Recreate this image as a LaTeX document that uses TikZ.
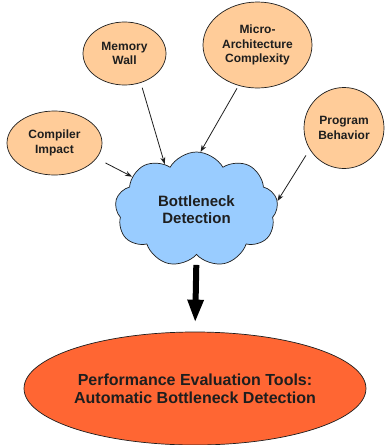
\documentclass[tikz,border=0pt]{standalone}
\usepackage{fontspec}
\setmainfont{Liberation Sans}
\usetikzlibrary{shapes.geometric,shapes.symbols,arrows.meta}
\definecolor{peach}{HTML}{FFCC99}
\definecolor{skyblue}{HTML}{99CCFF}
\definecolor{tomato}{HTML}{FF6633}
\definecolor{ink}{HTML}{1E1E1E}
\begin{document}
\begin{tikzpicture}[x=1pt,y=-1pt,
  factor/.style={ellipse,draw=ink,line width=0.7pt,fill=peach,inner sep=0pt,
    align=center,text=ink,font=\fontsize{12}{14.3}\selectfont\bfseries},
  feed/.style={draw=ink,line width=0.8pt,-{Stealth[length=7pt,width=5pt]}},
]
\useasboundingbox (0,0) rectangle (385,445);

% influencing factors
\node[factor,minimum width=83pt,minimum height=63pt] (mem) at (124.5,53.5) {Memory\\Wall};
\node[factor,minimum width=109pt,minimum height=86pt] (arch) at (257.5,45) {Micro-\\Architecture\\Complexity};
\node[factor,minimum width=95pt,minimum height=64pt] (comp) at (54.5,143) {Compiler\\Impact};
\node[factor,minimum width=80pt,minimum height=81pt] (prog) at (344,128) {Program\\Behavior};

% central cloud
\node[cloud,cloud puffs=9,cloud puff arc=120,aspect=1.4,draw=ink,line width=0.7pt,
  fill=skyblue,inner sep=0pt,minimum width=163pt,minimum height=115pt,
  align=center,text=ink,font=\fontsize{15}{17}\selectfont\bfseries] (cld) at (196.5,209.5)
  {Bottleneck\\Detection};

% result
\node[ellipse,draw=ink,line width=0.7pt,fill=tomato,inner sep=0pt,
  minimum width=324pt,minimum height=113pt,align=center,text=ink,
  font=\fontsize{16}{17.7}\selectfont\bfseries] (tool) at (195,388.5)
  {Performance Evaluation Tools:\\Automatic Bottleneck Detection};

% connectors
\draw[feed,shorten <=5pt] (mem.-61) -- (cld.125);
\draw[feed,shorten <=3pt] (arch.-115.5) -- (cld.86.5);
\draw[feed,shorten <=10pt] (comp.-20) -- (cld.153);
\draw[feed,shorten <=7pt] (prog.-148) -- (cld.6.6);

\draw[line width=6pt,-{Triangle[length=23pt,width=15pt]},shorten <=10pt,shorten >=9pt]
  (cld.south) -- (tool.north);
\end{tikzpicture}
\end{document}
